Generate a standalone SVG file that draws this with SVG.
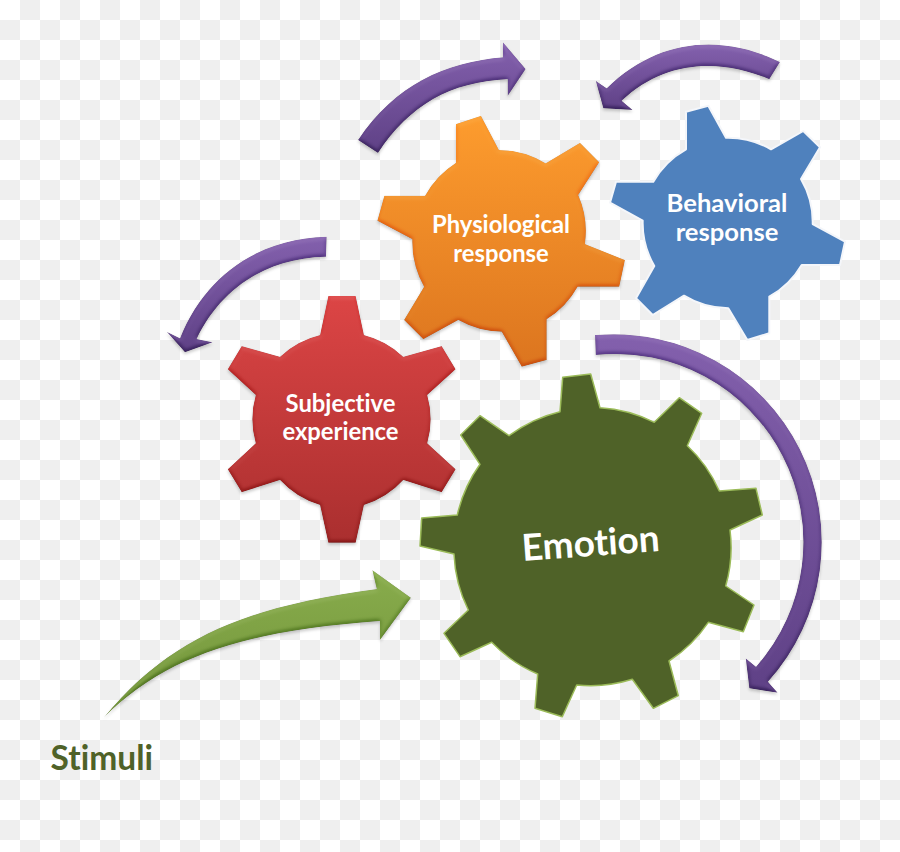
<svg xmlns="http://www.w3.org/2000/svg" width="900" height="852" viewBox="0 0 900 852">
<style>
text{font-family:"Lato","Liberation Sans",sans-serif;font-weight:700;text-anchor:middle;fill:#fff;font-variant-ligatures:none}
.arrow{fill:url(#purple);filter:url(#bevel)}
</style>
<defs>
<pattern id="checker" width="40" height="40" patternUnits="userSpaceOnUse">
<rect width="40" height="40" fill="#fff"/>
<rect x="20" width="20" height="20" fill="#efefef"/>
<rect y="20" width="20" height="20" fill="#efefef"/>
</pattern>
<linearGradient id="orange" x1="0" y1="0" x2="0" y2="1"><stop offset="0" stop-color="#fd9c2e"/><stop offset="1" stop-color="#dc751f"/></linearGradient>
<linearGradient id="red" x1="0" y1="0" x2="0" y2="1"><stop offset="0" stop-color="#dc4545"/><stop offset="1" stop-color="#aa2f2f"/></linearGradient>
<linearGradient id="purple" x1="0" y1="0" x2="0" y2="1"><stop offset="0" stop-color="#8360ad"/><stop offset="1" stop-color="#5f4186"/></linearGradient>
<linearGradient id="green" x1="0" y1="0" x2="0" y2="1"><stop offset="0" stop-color="#88ac4c"/><stop offset="1" stop-color="#72943a"/></linearGradient>
<filter id="bevel" x="-10%" y="-10%" width="120%" height="120%" color-interpolation-filters="sRGB">
<feGaussianBlur in="SourceAlpha" stdDeviation="2" result="bump"/>
<feDiffuseLighting in="bump" surfaceScale="2.4" diffuseConstant="0.577" lighting-color="#fff" result="light"><feDistantLight azimuth="270" elevation="60"/></feDiffuseLighting>
<feComposite in="light" in2="SourceAlpha" operator="in" result="clip"/>
<feBlend in="clip" in2="SourceGraphic" mode="soft-light" result="lit"/>
<feComposite in="lit" in2="SourceAlpha" operator="in" result="shape"/>
<feGaussianBlur in="SourceAlpha" stdDeviation="1.5" result="sb"/>
<feOffset in="sb" dy="1.5" result="so"/>
<feFlood flood-color="#000" flood-opacity="0.2"/>
<feComposite in2="so" operator="in" result="shadow"/>
<feMerge><feMergeNode in="shadow"/><feMergeNode in="shape"/></feMerge>
</filter>
</defs>
<rect id="background" width="900" height="852" fill="url(#checker)"/>
<g id="connectors">
<path id="arrow-physiological-behavioral" class="arrow" d="M358 140C395 85 445 62 503 57.3L503 42.3L525.7 69L507.7 96L507.7 79.3C450 82 410 105 378 153Z"/>
<path id="arrow-behavioral-physiological" class="arrow" d="M780 62C725 35 660 36 606.7 88.3L595.7 80.7L603.3 108.3L632.7 110L621.7 100.7C665 60 720 58 769.3 79.3Z"/>
<path id="arrow-physiological-subjective" class="arrow" d="M326.7 236.7C260 238 205 275 180 338.3L166.7 331.7L185 352.3L212.7 342.3L196.7 339C220 290 265 258 326 256.7Z"/>
<path id="arrow-emotion" class="arrow" d="M595 335A208 208 0 0 1 768 681.7L777.7 692.7L749.3 688.3L745.7 658.3L756 666.7A188 188 0 0 0 595.7 355Z"/>
<path id="arrow-stimuli" fill="url(#green)" filter="url(#bevel)" d="M103.3 718.3C175 630 260 605 376.7 589L372.3 570L411 597.7L380 640L380 621C260 630 170 650 103.3 718.3Z"/>
</g>
<g id="behavioral-response">
<path fill="#4f81bd" stroke="#f4f6fa" stroke-width="2" stroke-linejoin="round" d="M686 111.7L708.3 105.7L726 137.7A85 85 0 0 1 771 149.3L803.3 131L820 147.3L801 179A85 85 0 0 1 812.7 224L845 241.7L840 265L801.7 265A85 85 0 0 1 769.3 296.7L769.3 333.3L747.3 340L728.3 308.3A85 85 0 0 1 684 295.7L652.7 315L636 298.3L654.3 266A85 85 0 0 1 642.7 220.7L610 202.7L616 181.7L653.3 181.7A85 85 0 0 1 686 149.3Z"/>
<text x="727" y="212" font-size="25.600">Behavioral</text>
<text x="727" y="241" font-size="25.600">response</text>
</g>
<g id="physiological-response">
<path fill="url(#orange)" filter="url(#bevel)" d="M456 124L481 115.7L499 150A90 90 0 0 1 545.7 163.3L580 142.7L599.3 162.3L578.3 195A90 90 0 0 1 585 244L625 260L619.3 286.7L577.7 286.7A90 90 0 0 1 546.7 319.3L546.7 360L521.7 366.7L501.7 331.7A90 90 0 0 1 458.3 320L423.3 339.3L404 320L424 286.7A90 90 0 0 1 412.3 239.3L377.3 220.7L384.3 195.7L425 195.7A90 90 0 0 1 456 162.7Z"/>
<text x="501" y="233" font-size="23.800">Physiological</text>
<text x="501" y="262" font-size="23.800">response</text>
</g>
<g id="subjective-experience">
<path fill="url(#red)" filter="url(#bevel)" d="M328.3 296L355.7 296L364 335A88 88 0 0 1 403.3 356.7L441.7 346L455.7 369.3L427.3 395A88 88 0 0 1 427.3 443.3L455.7 469.3L441.7 492.3L403.3 480A88 88 0 0 1 364 505L355.7 542.7L328.3 542.7L320 505A88 88 0 0 1 280 480L241.7 492.3L227.7 469.3L255.7 443.3A88 88 0 0 1 255.7 395L227.7 369.3L241.7 346L280 356.7A88 88 0 0 1 320 335Z"/>
<text x="340.500" y="411.500" font-size="23.800">Subjective</text>
<text x="340.500" y="439.500" font-size="23.800">experience</text>
</g>
<g id="emotion">
<path fill="#4f6228" stroke="#9bbb59" stroke-width="1.500" stroke-linejoin="round" d="M562.7 377.3L590.7 374L600 407.7A139 139 0 0 1 654.3 422.3L679.3 397.7L701.7 413.3L687.3 445.700A139 139 0 0 1 719.300 491L756 488.300L762.300 515L730 530A139 139 0 0 1 725.700 586L754 605L743.300 631.700L708.300 622.300A139 139 0 0 1 669 661L678.300 695.700L653.300 708.300L632.300 679.300A139 139 0 0 1 576.700 685L562.300 716.700L535 708.300L537.700 674A139 139 0 0 1 491.700 642.300L460 656.700L444 633.300L468.300 610A139 139 0 0 1 454 554L420 546L421.700 518L457.300 515A139 139 0 0 1 480 464.300L460.700 435L480 415.700L509 435.700A139 139 0 0 1 560 411.700Z"/>
<text x="591.500" y="556" font-size="37" transform="rotate(-4.200 591.500 556)">Emotion</text>
</g>
<g id="stimuli">
<text x="101.800" y="770" font-size="33.500" style="fill:#4f6228">Stimuli</text>
</g>
</svg>
